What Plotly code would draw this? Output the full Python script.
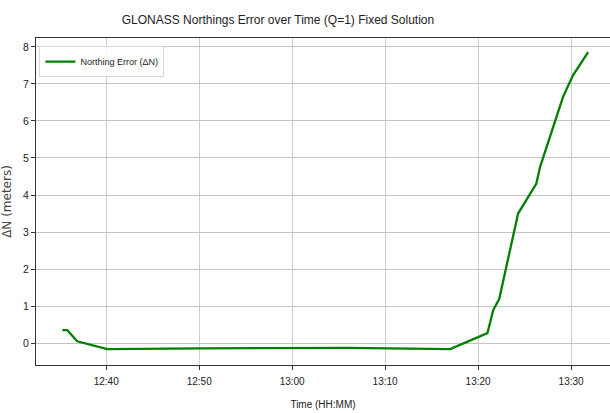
import plotly.graph_objects as go

# Northing error samples (time of day, metres)
times = [
    "12:35:17", "12:35:49", "12:36:53", "12:40:06", "12:50:00",
    "13:05:10", "13:06:00", "13:17:00", "13:21:00", "13:21:38",
    "13:22:16", "13:24:18", "13:26:15", "13:26:40", "13:27:45",
    "13:29:08", "13:30:13", "13:31:50",
]
delta_n = [
    0.35, 0.35, 0.05, -0.16, -0.14,
    -0.12, -0.13, -0.16, 0.27, 0.90,
    1.19, 3.50, 4.30, 4.76, 5.60,
    6.65, 7.24, 7.86,
]
x_tick_labels = ["12:40", "12:50", "13:00", "13:10", "13:20", "13:30"]
y_ticks = [0, 1, 2, 3, 4, 5, 6, 7, 8]

DAY = "2024-01-01 "
xs = [DAY + t for t in times]
x_tickvals = [DAY + t + ":00" for t in x_tick_labels]

SANS = "Liberation Sans, Arial, sans-serif"

fig = go.Figure()
fig.add_trace(go.Scatter(
    x=xs, y=delta_n, mode="lines",
    line=dict(color="#008000", width=2.3),
    name="Northing Error (ΔN)",
))

W, H = 610, 413
ml, mr, mt, mb = 36, 0, 38, 48

fig.update_layout(
    width=W, height=H,
    margin=dict(l=ml, r=mr, t=mt, b=mb),
    paper_bgcolor="white", plot_bgcolor="white",
    font=dict(family=SANS, size=10, color="#222"),
    title=dict(
        text="GLONASS Northings Error over Time (Q=1) Fixed Solution",
        x=(278 - ml) / (W - ml - mr), xref="paper", xanchor="center",
        y=1 - 20 / H, yanchor="middle",
        font=dict(family=SANS, size=12, color="#222"),
    ),
    showlegend=True,
    legend=dict(
        x=0.006, y=0.975, xanchor="left", yanchor="top",
        bgcolor="rgba(255,255,255,0.85)", bordercolor="#d8d8d8", borderwidth=1,
        font=dict(family=SANS, size=9, color="#222"),
        itemwidth=30, tracegroupgap=0,
    ),
    xaxis=dict(
        type="date",
        range=[DAY + "12:32:27", DAY + "13:34:11"],
        tickvals=x_tickvals, ticktext=x_tick_labels,
        ticks="outside", ticklen=4, tickcolor="#333",
        ticklabelstandoff=3,
        showgrid=True, gridcolor="#cfcfcf", gridwidth=1,
        showline=True, linecolor="#333", linewidth=1.2, mirror=True,
        zeroline=False,
        tickfont=dict(family=SANS, size=10, color="#222"),
        title=dict(text="Time (HH:MM)", standoff=14,
                   font=dict(family=SANS, size=10, color="#222")),
    ),
    yaxis=dict(
        range=[-0.59, 8.24],
        tickvals=y_ticks,
        ticks="outside", ticklen=4, tickcolor="#333",
        showgrid=True, gridcolor="#c4c4c4", gridwidth=1.3,
        showline=True, linecolor="#333", linewidth=1.2, mirror=False,
        zeroline=False,
        tickfont=dict(family=SANS, size=10.5, color="#222"),
        title=dict(text="ΔN (meters)", standoff=8,
                   font=dict(family="DejaVu Sans", size=12, color="#444")),
    ),
)

fig.write_html("out.html")
